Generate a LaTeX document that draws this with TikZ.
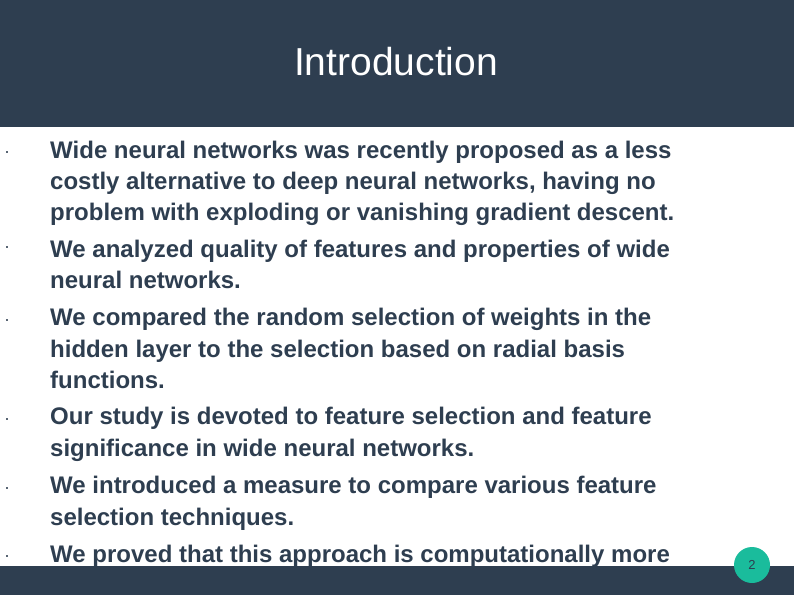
\documentclass[tikz,border=0pt]{standalone}
\usepackage{fontspec}
\setmainfont{Liberation Sans}
\definecolor{dark}{HTML}{2E3E50}
\definecolor{teal}{HTML}{1ABC9C}
\begin{document}
\begin{tikzpicture}[x=1pt,y=-1pt,
  ln/.style={anchor=base west,inner sep=0,font=\fontsize{24}{24}\selectfont\bfseries,text=dark},
  bul/.style={fill=dark!80,minimum size=2.5pt,inner sep=0}]
\useasboundingbox (0,0) rectangle (794,595);
\fill[dark] (0,0) rectangle (794,127);
\fill[dark] (0,566) rectangle (794,595);
\node[text=white,font=\fontsize{39}{39}\selectfont] (title) at (396,62) {Introduction};
\foreach \y/\t [count=\i] in {158/Wide neural networks was recently proposed as a less,
 189/costly alternative to deep neural networks{,} having no,
 220/problem with exploding or vanishing gradient descent.,
 257/We analyzed quality of features and properties of wide,
 288/neural networks.,
 325/We compared the random selection of weights in the,
 357/hidden layer to the selection based on radial basis,
 388/functions.,
 424/Our study is devoted to feature selection and feature,
 456/significance in wide neural networks.,
 493/We introduced a measure to compare various feature,
 525/selection techniques.,
 562/We proved that this approach is computationally more}
 \node[ln] (l\i) at (50,\y) {\t};
\foreach \y [count=\i] in {152,247,320,419,488,556}
 \node[bul] (b\i) at (7,\y) {};
\node[circle,fill=teal,minimum size=36pt,inner sep=0,font=\fontsize{13}{13}\selectfont,text=dark] (pg) at (752,565) {2};
\end{tikzpicture}
\end{document}
